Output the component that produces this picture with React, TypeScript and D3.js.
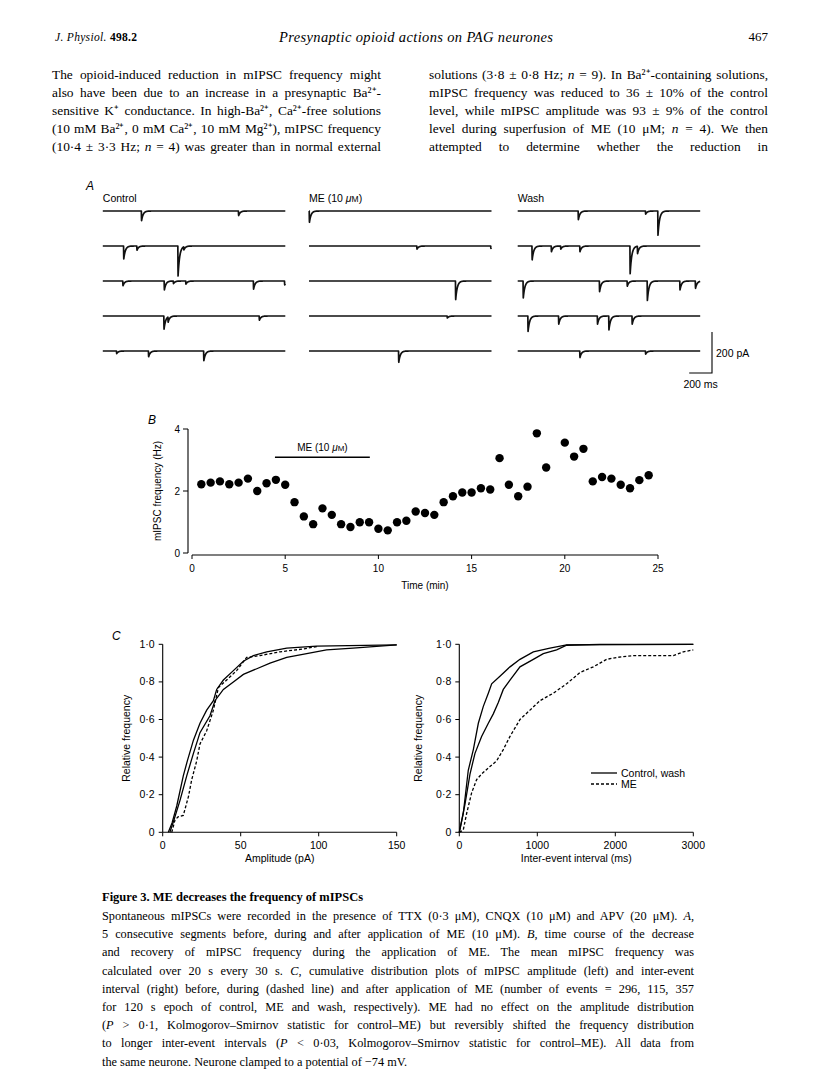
import React, { useLayoutEffect, useRef } from 'react';
import * as d3 from 'd3';

const W = 816, H = 1088;
const SANS = '"Liberation Sans", Arial, Helvetica, sans-serif';
const SERIF = '"Liberation Serif", "Times New Roman", serif';

// ---------- Panel A data ----------
const aColumns = ['Control', 'ME (10 μM)', 'Wash'];
const aDurationMs = 1600;
// per row: [time (ms), amplitude (pA)]
const controlEvents: number[][][] = [
  [[338, 49], [1189, 23]],
  [[182, 65], [298, 21], [658, 151], [709, 16]],
  [[175, 24], [538, 45], [618, 13], [727, 16], [1320, 41], [1593, 20]],
  [[535, 67], [571, 26], [1371, 21]],
  [[120, 13], [400, 29], [884, 49]],
];
const meEvents: number[][][] = [
  [[2, 57]],
  [[945, 16], [1593, 12]],
  [[1284, 94]],
  [[1211, 10]],
  [[785, 57]],
];
const washEvents: number[][][] = [
  [[530, 44], [1120, 16], [1228, 122]],
  [[125, 70], [294, 29], [376, 16], [544, 29], [984, 140], [1049, 37]],
  [[47, 86], [716, 54], [959, 26], [1135, 98], [1421, 45], [1557, 37]],
  [[89, 78], [358, 41], [698, 41], [798, 70], [1002, 41]],
  [[544, 33], [1120, 16]],
];
const aEventSets = [controlEvents, meEvents, washEvents];

// ---------- Panel B data ----------
const bTimes = [0.5, 1, 1.5, 2, 2.5, 3, 3.5, 4, 4.5, 5, 5.5, 6, 6.5, 7, 7.5, 8, 8.5, 9, 9.5, 10, 10.5, 11, 11.5, 12, 12.5, 13, 13.5, 14, 14.5, 15, 15.5, 16, 16.5, 17, 17.5, 18, 18.5, 19, 20, 20.5, 21, 21.5, 22, 22.5, 23, 23.5, 24, 24.5];
const bFreq = [2.22, 2.27, 2.31, 2.22, 2.27, 2.40, 2.0, 2.25, 2.36, 2.2, 1.64, 1.18, 0.93, 1.44, 1.23, 0.93, 0.84, 0.99, 0.99, 0.78, 0.73, 0.99, 1.04, 1.34, 1.29, 1.23, 1.64, 1.83, 1.95, 1.95, 2.09, 2.05, 3.06, 2.2, 1.83, 2.14, 3.86, 2.76, 3.56, 3.11, 3.36, 2.31, 2.45, 2.40, 2.2, 2.09, 2.35, 2.51];
const bXTicks = [0, 5, 10, 15, 20, 25];
const bYTicks = [0, 2, 4];
const bMeStart = 4.45, bMeEnd = 9.54, bMeLevel = 3.09;

// ---------- Panel C data ----------
const ampControl = [[3.6, 0], [6, 0.05], [9, 0.14], [13.2, 0.3], [15.8, 0.38], [19.7, 0.49], [23.9, 0.58], [28.2, 0.65], [32.5, 0.7], [34.6, 0.76], [38.9, 0.81], [45.3, 0.86], [51.7, 0.91], [58.1, 0.94], [66.7, 0.96], [79.5, 0.98], [98.7, 0.99], [150, 0.997]];
const ampWash = [[4.6, 0], [7, 0.06], [11.1, 0.17], [15.4, 0.3], [19.7, 0.42], [23.9, 0.53], [30.3, 0.62], [33.5, 0.7], [38.9, 0.76], [45.3, 0.8], [51.7, 0.84], [60.3, 0.87], [68.8, 0.9], [79.5, 0.93], [92.3, 0.95], [105, 0.97], [122, 0.98], [150, 0.997]];
const ampME = [[5.8, 0], [7.9, 0.066], [10, 0.083], [13.2, 0.09], [16.5, 0.19], [18.6, 0.28], [21.8, 0.38], [23.9, 0.47], [28.2, 0.54], [32.5, 0.65], [35.7, 0.77], [41, 0.81], [47.4, 0.86], [53.8, 0.93], [62.4, 0.94], [75.2, 0.96], [90, 0.975], [100, 0.99]];
const iviControl = [[0, 0], [51, 0.1], [115, 0.33], [180, 0.44], [244, 0.58], [308, 0.67], [372, 0.74], [415, 0.79], [521, 0.83], [650, 0.88], [778, 0.92], [949, 0.96], [1162, 0.98], [1376, 0.997], [3000, 1]];
const iviWash = [[0, 0], [73, 0.15], [137, 0.31], [201, 0.42], [286, 0.51], [372, 0.58], [436, 0.63], [500, 0.69], [564, 0.76], [650, 0.81], [778, 0.88], [949, 0.92], [1077, 0.95], [1248, 0.97], [1376, 0.995], [1804, 1], [3000, 1]];
const iviME = [[0, 0], [51, 0.012], [94, 0.1], [158, 0.21], [222, 0.28], [286, 0.31], [393, 0.35], [479, 0.38], [564, 0.44], [650, 0.51], [778, 0.6], [906, 0.65], [1034, 0.7], [1205, 0.74], [1376, 0.79], [1547, 0.85], [1718, 0.88], [1889, 0.92], [2017, 0.93], [2231, 0.94], [2744, 0.94], [2872, 0.96], [3000, 0.97]];
const cYTicks = [0, 0.2, 0.4, 0.6, 0.8, 1.0];
const ampTicks = [0, 50, 100, 150];
const iviTicks = [0, 1000, 2000, 3000];
const legendLabels = ['Control, wash', 'ME'];

// ---------- Text ----------
const leftCol = [
  'The opioid-induced reduction in mIPSC frequency might',
  'also have been due to an increase in a presynaptic Ba²⁺-',
  'sensitive K⁺ conductance. In high-Ba²⁺, Ca²⁺-free solutions',
  '(10 mM Ba²⁺, 0 mM Ca²⁺, 10 mM Mg²⁺), mIPSC frequency',
  '(10·4 ± 3·3 Hz; n = 4) was greater than in normal external',
];
const rightCol = [
  'solutions (3·8 ± 0·8 Hz; n = 9). In Ba²⁺-containing solutions,',
  'mIPSC frequency was reduced to 36 ± 10% of the control',
  'level, while mIPSC amplitude was 93 ± 9% of the control',
  'level during superfusion of ME (10 μM; n = 4). We then',
  'attempted to determine whether the reduction in',
];
const captionTitle = 'Figure 3. ME decreases the frequency of mIPSCs';
const captionLines = [
  'Spontaneous mIPSCs were recorded in the presence of TTX (0·3 μM), CNQX (10 μM) and APV (20 μM). A,',
  '5 consecutive segments before, during and after application of ME (10 μM). B, time course of the decrease',
  'and recovery of mIPSC frequency during the application of ME. The mean mIPSC frequency was',
  'calculated over 20 s every 30 s. C, cumulative distribution plots of mIPSC amplitude (left) and inter-event',
  'interval (right) before, during (dashed line) and after application of ME (number of events = 296, 115, 357',
  'for 120 s epoch of control, ME and wash, respectively). ME had no effect on the amplitude distribution',
  '(P > 0·1, Kolmogorov–Smirnov statistic for control–ME) but reversibly shifted the frequency distribution',
  'to longer inter-event intervals (P < 0·03, Kolmogorov–Smirnov statistic for control–ME). All data from',
  'the same neurone. Neurone clamped to a potential of −74 mV.',
];

const fmtDot = (v: number) => (v === 0 ? '0' : d3.format('.1f')(v).replace('.', '·'));

function richText(s: string) {
  const parts = s.split(/(\bn(?= =)|\b[ABC](?=,)|\bP(?= [<>]))/g);
  return parts.map((p, i) =>
    /^(n|A|B|C|P)$/.test(p) ? <tspan key={i} fontStyle="italic">{p}</tspan> : <tspan key={i}>{p}</tspan>
  );
}

function tracePath(events: number[][], x0: number, width: number, base: number) {
  const x = d3.scaleLinear().domain([0, aDurationMs]).range([x0, x0 + width]);
  const amp = d3.scaleLinear().domain([0, 200]).range([0, 41]);
  const tau = 14, rise = 1.5;
  const ts = d3.range(0, aDurationMs + 0.01, 1);
  const pts: [number, number][] = ts.map((t) => {
    let v = 0;
    for (const [t0, a] of events) {
      const dt = t - t0;
      if (dt < 0) continue;
      v += dt < rise ? a * (dt / rise) : a * Math.exp(-(dt - rise) / tau);
    }
    return [x(t), base + amp(v)];
  });
  return d3.line()(pts) as string;
}

export default function App() {
  const svgRef = useRef<SVGSVGElement>(null);

  useLayoutEffect(() => {
    const svg = svgRef.current;
    if (!svg) return;
    svg.querySelectorAll('text[data-justify]').forEach((el) => {
      const t = el as SVGTextElement;
      t.removeAttribute('textLength');
      t.setAttribute('word-spacing', '0');
      const target = parseFloat(t.getAttribute('data-justify') || '0');
      const natural = t.getComputedTextLength();
      const spaces = (t.textContent || '').split(' ').length - 1;
      if (spaces > 0 && target > natural) {
        t.setAttribute('word-spacing', String((target - natural) / spaces));
      } else if (target < natural) {
        t.setAttribute('textLength', String(target));
        t.setAttribute('lengthAdjust', 'spacing');
      }
    });
  });

  // Panel A layout
  const colX = [102.8, 309, 517.7];
  const colW = 182.5;
  const rowY = [211, 246, 281, 316, 351];
  const msScale = d3.scaleLinear().domain([0, aDurationMs]).range([0, colW]);
  const pAScale = d3.scaleLinear().domain([0, 200]).range([0, 41]);
  const sbX = 712, sbY = 373;

  // Panel B
  const bx = d3.scaleLinear().domain([0, 25]).range([192, 658]);
  const by = d3.scaleLinear().domain([0, 4]).range([553, 429]);

  // Panel C
  const cy = d3.scaleLinear().domain([0, 1]).range([832.3, 644.3]);
  const cxL = d3.scaleLinear().domain([0, 150]).range([162.7, 396.7]);
  const cxR = d3.scaleLinear().domain([0, 3000]).range([459.3, 693.3]);
  const lineL = d3.line<number[]>().x((d) => cxL(d[0])).y((d) => cy(d[1]));
  const lineR = d3.line<number[]>().x((d) => cxR(d[0])).y((d) => cy(d[1]));

  const cdfPanel = (
    xs: d3.ScaleLinear<number, number>,
    ticks: number[],
    label: string,
    curves: { d: string; dashed: boolean }[],
    yLabelX: number
  ) => {
    const x0 = xs.range()[0];
    return (
      <g>
        <line x1={x0} x2={x0} y1={cy(0)} y2={cy(1)} stroke="#000" strokeWidth={1.1} />
        <line x1={x0} x2={xs.range()[1]} y1={cy(0)} y2={cy(0)} stroke="#000" strokeWidth={1.1} />
        {cYTicks.map((t) => (
          <g key={t}>
            <line x1={x0 - 4} x2={x0} y1={cy(t)} y2={cy(t)} stroke="#000" strokeWidth={1} />
            <text x={x0 - 8} y={cy(t) + 3.5} fontSize={10.5} textAnchor="end" fontFamily={SANS}>{fmtDot(t)}</text>
          </g>
        ))}
        {ticks.map((t) => (
          <g key={t}>
            <line x1={xs(t)} x2={xs(t)} y1={cy(0)} y2={cy(0) + 4} stroke="#000" strokeWidth={1} />
            <text x={xs(t)} y={cy(0) + 17} fontSize={10.5} textAnchor="middle" fontFamily={SANS}>{t}</text>
          </g>
        ))}
        <text x={(xs.range()[0] + xs.range()[1]) / 2} y={862} fontSize={10.5} textAnchor="middle" fontFamily={SANS}>{label}</text>
        <text transform={`translate(${yLabelX},${(cy(0) + cy(1)) / 2}) rotate(-90)`} fontSize={10.5} textAnchor="middle" fontFamily={SANS}>Relative frequency</text>
        {curves.map((c, i) => (
          <path key={i} d={c.d} fill="none" stroke="#000" strokeWidth={1.3} strokeDasharray={c.dashed ? '3,2' : undefined} />
        ))}
      </g>
    );
  };

  return (
    <svg ref={svgRef} width={W} height={H} viewBox={`0 0 ${W} ${H}`} style={{ position: 'absolute', left: 0, top: 0, background: '#fff' }}>
      <rect x={0} y={0} width={W} height={H} fill="#fff" />
      {/* Header */}
      <text x={55} y={41} fontFamily={SERIF} fontSize={11.5} textLength={82} lengthAdjust="spacing">
        <tspan fontStyle="italic">J. Physiol.</tspan>
        <tspan fontWeight="bold"> 498.2</tspan>
      </text>
      <text x={416} y={42} fontFamily={SERIF} fontSize={14.5} fontStyle="italic" textAnchor="middle" textLength={274} lengthAdjust="spacing">Presynaptic opioid actions on PAG neurones</text>
      <text x={768} y={41} fontFamily={SERIF} fontSize={13} textAnchor="end">467</text>

      {/* Body text */}
      {leftCol.map((s, i) => (
        <text key={'l' + i} x={52} y={79 + i * 18} fontFamily={SERIF} fontSize={13.4} data-justify={329}>{richText(s)}</text>
      ))}
      {rightCol.map((s, i) => (
        <text key={'r' + i} x={429} y={79 + i * 18} fontFamily={SERIF} fontSize={13.4} data-justify={339}>{richText(s)}</text>
      ))}

      {/* Panel A */}
      <text x={86} y={190} fontFamily={SANS} fontSize={12} fontStyle="italic">A</text>
      {aColumns.map((c, i) => (
        <text key={c} x={colX[i]} y={202} fontFamily={SANS} fontSize={10.5}>
          {c.includes('μ') ? (<><tspan>ME (10 </tspan><tspan fontStyle="italic">μ</tspan><tspan fontSize={8.5}>M</tspan><tspan>)</tspan></>) : c}
        </text>
      ))}
      {aEventSets.map((set, ci) =>
        set.map((events, ri) => (
          <path key={ci + '-' + ri} d={tracePath(events, colX[ci], colW, rowY[ri])} fill="none" stroke="#111" strokeWidth={1.7} strokeLinejoin="round" />
        ))
      )}
      <path d={`M${sbX - msScale(200)},${sbY}H${sbX}V${sbY - pAScale(200)}`} fill="none" stroke="#000" strokeWidth={1.1} />
      <text x={sbX + 4} y={sbY - pAScale(100) + 4} fontFamily={SANS} fontSize={10.5}>200 pA</text>
      <text x={sbX - msScale(100)} y={sbY + 15} fontFamily={SANS} fontSize={10.5} textAnchor="middle">200 ms</text>

      {/* Panel B */}
      <text x={148} y={424} fontFamily={SANS} fontSize={12} fontStyle="italic">B</text>
      <line x1={188} x2={188} y1={by(0)} y2={by(4)} stroke="#000" strokeWidth={1.1} />
      {bYTicks.map((t) => (
        <g key={t}>
          <line x1={183} x2={188} y1={by(t)} y2={by(t)} stroke="#000" strokeWidth={1} />
          <text x={180} y={by(t) + 3.5} fontSize={10} textAnchor="end" fontFamily={SANS}>{t}</text>
        </g>
      ))}
      <line x1={bx(0)} x2={bx(25)} y1={by(0) + 2} y2={by(0) + 2} stroke="#000" strokeWidth={1.1} />
      {bXTicks.map((t) => (
        <g key={t}>
          <line x1={bx(t)} x2={bx(t)} y1={by(0) + 2} y2={by(0) + 6} stroke="#000" strokeWidth={1} />
          <text x={bx(t)} y={by(0) + 19} fontSize={10} textAnchor="middle" fontFamily={SANS}>{t}</text>
        </g>
      ))}
      <text x={(bx(0) + bx(25)) / 2} y={589} fontSize={10} textAnchor="middle" fontFamily={SANS}>Time (min)</text>
      <text transform={`translate(161,${by(2)}) rotate(-90)`} fontSize={10} textAnchor="middle" fontFamily={SANS}>mIPSC frequency (Hz)</text>
      <line x1={bx(bMeStart)} x2={bx(bMeEnd)} y1={by(bMeLevel)} y2={by(bMeLevel)} stroke="#000" strokeWidth={1.4} />
      <text x={(bx(bMeStart) + bx(bMeEnd)) / 2} y={by(bMeLevel) - 6} fontSize={10} textAnchor="middle" fontFamily={SANS}>
        <tspan>ME (10 </tspan><tspan fontStyle="italic">μ</tspan><tspan fontSize={8}>M</tspan><tspan>)</tspan>
      </text>
      {bTimes.map((t, i) => (
        <circle key={i} cx={bx(t)} cy={by(bFreq[i])} r={4.2} fill="#000" />
      ))}

      {/* Panel C */}
      <text x={112} y={640} fontFamily={SANS} fontSize={12} fontStyle="italic">C</text>
      {cdfPanel(cxL, ampTicks, 'Amplitude (pA)', [
        { d: lineL(ampControl) as string, dashed: false },
        { d: lineL(ampWash) as string, dashed: false },
        { d: lineL(ampME) as string, dashed: true },
      ], 130)}
      {cdfPanel(cxR, iviTicks, 'Inter-event interval (ms)', [
        { d: lineR(iviControl) as string, dashed: false },
        { d: lineR(iviWash) as string, dashed: false },
        { d: lineR(iviME) as string, dashed: true },
      ], 422)}
      <line x1={591} x2={617} y1={773} y2={773} stroke="#000" strokeWidth={1.3} />
      <text x={621} y={777} fontSize={10.5} fontFamily={SANS}>{legendLabels[0]}</text>
      <line x1={591} x2={617} y1={784} y2={784} stroke="#000" strokeWidth={1.3} strokeDasharray="3,2" />
      <text x={621} y={788} fontSize={10.5} fontFamily={SANS}>{legendLabels[1]}</text>

      {/* Caption */}
      <text x={102} y={901} fontFamily={SERIF} fontSize={12.5} fontWeight="bold">{captionTitle}</text>
      {captionLines.map((s, i) => (
        <text key={'c' + i} x={102} y={920 + i * 18.2} fontFamily={SERIF} fontSize={12.3}
          {...(i < captionLines.length - 1 ? { 'data-justify': 592 } : {})}>{richText(s)}</text>
      ))}
    </svg>
  );
}
